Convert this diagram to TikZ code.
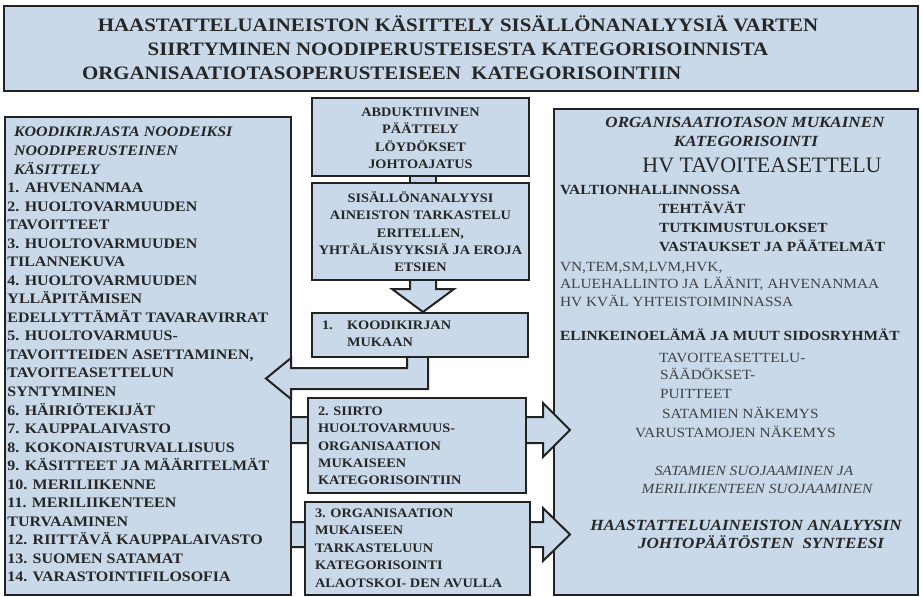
\documentclass[tikz,border=0pt]{standalone}
\usepackage{fontspec}
\setmainfont{Liberation Serif}[FakeStretch=1.1]
\newfontfamily\plainserif{Liberation Serif}
\usetikzlibrary{calc}
\definecolor{boxfill}{RGB}{201,217,234}
\definecolor{boxline}{RGB}{34,34,34}
\definecolor{ink}{RGB}{38,38,38}
\definecolor{softink}{RGB}{66,66,66}
\begin{document}
\begin{tikzpicture}[x=1pt,y=-1pt,
  panel/.style={draw=boxline, line width=2.4pt, fill=boxfill, anchor=north west, inner sep=0pt, outer sep=0pt},
  stage/.style={panel, line width=2.2pt},
  flow/.style={draw=boxline, line width=2pt, fill=boxfill, line join=miter},
  lbl/.style={inner sep=0pt, outer sep=0pt, text=ink, anchor=base west},
  titletxt/.style={lbl, font=\fontsize{19}{23}\selectfont\bfseries},
  listhead/.style={lbl, font=\fontsize{14.5}{17}\selectfont\bfseries\itshape},
  listitem/.style={lbl, font=\fontsize{14.5}{17}\selectfont\bfseries},
  midtxt/.style={lbl, font=\fontsize{13}{16}\selectfont\bfseries},
  hdr/.style={lbl, anchor=base, font=\fontsize{15.5}{18}\selectfont\bfseries\itshape},
  bigtxt/.style={lbl, anchor=base, font=\plainserif\fontsize{22}{26}\selectfont},
  bodyb/.style={lbl, font=\fontsize{14}{17}\selectfont\bfseries},
  bodyr/.style={lbl, text=softink, font=\fontsize{14}{17}\selectfont},
  slant/.style={lbl, anchor=base, text=softink, font=\fontsize{14}{17}\selectfont\itshape}
]
\useasboundingbox (0,0) rectangle (922,597);

% outer panels
\node[panel, minimum width=914, minimum height=85] (title) at (4,6) {};
\node[panel, minimum width=286, minimum height=478] (lbox) at (5,117) {};
\node[panel, minimum width=364, minimum height=486] (rbox) at (554,109) {};

% middle stages (placed first so the block arrows can refer to them)
\path (312,98) node[stage, draw=none, fill=none, minimum width=217, minimum height=78] (abd) {}
      (312,183) node[stage, draw=none, fill=none, minimum width=217, minimum height=97] (sis) {}
      (312,313) node[stage, draw=none, fill=none, minimum width=216, minimum height=44] (kood) {}
      (308,398) node[stage, draw=none, fill=none, minimum width=218, minimum height=95] (siirto) {}
      (305,502) node[stage, draw=none, fill=none, minimum width=225, minimum height=93] (orgbox) {};

% block arrows
\fill[boxfill] ($(abd.south)+(-10.5,0)$) rectangle ($(sis.north)+(15.5,0)$);
\draw[boxline, line width=2pt] ($(abd.south)+(-10.5,0)$) -- ($(sis.north)+(-10.5,0)$)
                               ($(abd.south)+(15.5,0)$) -- ($(sis.north)+(15.5,0)$);
\draw[flow] ($(sis.south)+(-10.5,0)$) -- ++(0,9) -- ++(-18,0) -- ++(31,23)
            -- ++(31,-23) -- ++(-18,0) -- ++(0,-9);
\draw[flow] ($(kood.south)+(-13,0)$) -- ++(0,11) -- (lbox.east |- {$(kood.south)+(0,11)$})
            -- ++(0,-10) -- ++(-25,20.5) -- ++(25,20.5) -- ++(0,-10)
            -- ($(kood.south)+(8,32)$) -- ($(kood.south)+(8,0)$);
\coordinate (a2) at ($(siirto.north west)+(0,19)$);
\draw[flow] ([xshift=1pt]a2 -| lbox.east) -- ++(251,0) -- ++(0,-14) -- ++(27,27)
            -- ++(-27,27) -- ++(0,-14) -- ++(-251,0);
\coordinate (a3) at ($(orgbox.north west)+(0,20)$);
\draw[flow] ([xshift=1pt]a3 -| lbox.east) -- ++(251,0) -- ++(0,-14) -- ++(27,26.5)
            -- ++(-27,26.5) -- ++(0,-14) -- ++(-251,0);

% middle stage boxes drawn over the arrow ends
\foreach \b in {abd,sis,kood,siirto,orgbox}
  \draw[boxline, line width=2.2pt, fill=boxfill] (\b.north west) rectangle (\b.south east);

% title
\node[titletxt, anchor=base] (t1) at (458,31.5) {HAASTATTELUAINEISTON KÄSITTELY SISÄLLÖNANALYYSIÄ VARTEN};
\node[titletxt, anchor=base] (t2) at (458,55.5) {SIIRTYMINEN NOODIPERUSTEISESTA KATEGORISOINNISTA};
\node[titletxt] (t3) at (82,79.5) {ORGANISAATIOTASOPERUSTEISEEN\ \ KATEGORISOINTIIN};

% code book list
\node[listhead] (h1) at (14,136.9) {KOODIKIRJASTA NOODEIKSI};
\node[listhead] (h2) at (14,155.4) {NOODIPERUSTEINEN};
\node[listhead] (h3) at (14,174.0) {KÄSITTELY};
\foreach \t [count=\i from 3] in {{1. AHVENANMAA},{2. HUOLTOVARMUUDEN},{TAVOITTEET},
    {3. HUOLTOVARMUUDEN},{TILANNEKUVA},{4. HUOLTOVARMUUDEN},{YLLÄPITÄMISEN},
    {EDELLYTTÄMÄT TAVARAVIRRAT},{5. HUOLTOVARMUUS-},{TAVOITTEIDEN ASETTAMINEN,},
    {TAVOITEASETTELUN},{SYNTYMINEN},{6. HÄIRIÖTEKIJÄT},{7. KAUPPALAIVASTO},
    {8. KOKONAISTURVALLISUUS},{9. KÄSITTEET JA MÄÄRITELMÄT},{10. MERILIIKENNE},
    {11. MERILIIKENTEEN},{TURVAAMINEN},{12. RIITTÄVÄ KAUPPALAIVASTO},
    {13. SUOMEN SATAMAT},{14. VARASTOINTIFILOSOFIA}}
  \node[listitem] (li\i) at (7.5,{136.9+18.54*\i}) {\t};

% stage texts
\foreach \t [count=\i from 0] in {ABDUKTIIVINEN,PÄÄTTELY,LÖYDÖKSET,JOHTOAJATUS}
  \node[midtxt, anchor=base] (ab\i) at ($(abd.north)+(0,{18.4+17.4*\i})$) {\t};
\foreach \t [count=\i from 0] in {SISÄLLÖNANALYYSI,{AINEISTON TARKASTELU},{ERITELLEN,},
    {YHTÄLÄISYYKSIÄ JA EROJA},ETSIEN}
  \node[midtxt, anchor=base] (si\i) at ($(sis.north)+(0,{19.4+17.3*\i})$) {\t};
\node[midtxt] (k0) at ($(kood.north west)+(10,16.4)$) {1.};
\node[midtxt] (k1) at ($(kood.north west)+(35,16.4)$) {KOODIKIRJAN};
\node[midtxt] (k2) at ($(kood.north west)+(35,33.4)$) {MUKAAN};
\foreach \t [count=\i from 0] in {{2. SIIRTO},HUOLTOVARMUUS-,ORGANISAATION,MUKAISEEN,KATEGORISOINTIIN}
  \node[midtxt] (s\i) at ($(siirto.north west)+(10,{17.4+17.3*\i})$) {\t};
\foreach \t [count=\i from 0] in {{3. ORGANISAATION},MUKAISEEN,TARKASTELUUN,KATEGORISOINTI,{ALAOTSKOI- DEN AVULLA}}
  \node[midtxt] (o\i) at ($(orgbox.north west)+(10,{15.4+17.5*\i})$) {\t};

% organisation level categorisation
\node[hdr] (r1) at (745,127) {ORGANISAATIOTASON MUKAINEN};
\node[hdr] (r2) at (746,146) {KATEGORISOINTI};
\node[bigtxt] (r3) at (762,172.5) {HV TAVOITEASETTELU};
\node[bodyb] (r4) at (560,194) {VALTIONHALLINNOSSA};
\node[bodyb] (r5) at (659,213) {TEHTÄVÄT};
\node[bodyb] (r6) at (659,232.5) {TUTKIMUSTULOKSET};
\node[bodyb] (r7) at (659,251) {VASTAUKSET JA PÄÄTELMÄT};
\node[bodyr] (r8) at (560,271) {VN,TEM,SM,LVM,HVK,};
\node[bodyr] (r9) at (560,288) {ALUEHALLINTO JA LÄÄNIT, AHVENANMAA};
\node[bodyr] (r10) at (560,306) {HV KVÄL YHTEISTOIMINNASSA};
\node[bodyb] (r11) at (560,340) {ELINKEINOELÄMÄ JA MUUT SIDOSRYHMÄT};
\node[bodyr] (r12) at (659,362) {TAVOITEASETTELU-};
\node[bodyr] (r13) at (660,379) {SÄÄDÖKSET-};
\node[bodyr] (r14) at (660,398) {PUITTEET};
\node[bodyr] (r15) at (662,418) {SATAMIEN NÄKEMYS};
\node[bodyr] (r16) at (635,437) {VARUSTAMOJEN NÄKEMYS};
\node[slant] (r17) at (754,475) {SATAMIEN SUOJAAMINEN JA};
\node[slant] (r18) at (757,493) {MERILIIKENTEEN SUOJAAMINEN};
\node[hdr] (r19) at (746,530) {HAASTATTELUAINEISTON ANALYYSIN};
\node[hdr] (r20) at (761,548) {JOHTOPÄÄTÖSTEN\ \ SYNTEESI};
\end{tikzpicture}
\end{document}
